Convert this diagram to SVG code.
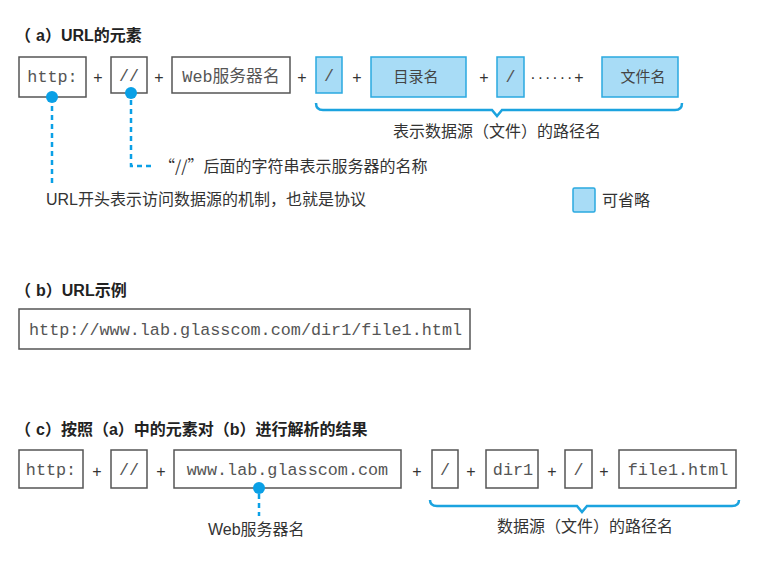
<svg xmlns="http://www.w3.org/2000/svg" width="757" height="561" viewBox="0 0 757 561">
<style>
.t{font-family:"Liberation Sans","Noto Sans CJK SC",sans-serif;font-size:16px;font-weight:bold;fill:#222}
.l{font-family:"Liberation Sans","Noto Sans CJK SC",sans-serif;font-size:16px;fill:#333}
.m{font-family:"Liberation Mono","Noto Sans CJK SC",monospace;font-size:16.8px;fill:#555;text-anchor:middle}
.p{font-family:"Liberation Sans",sans-serif;font-size:16px;fill:#333;text-anchor:middle}
.c{font-family:"Noto Sans CJK SC",sans-serif;font-size:15px;fill:#444;text-anchor:middle}
.b{fill:#fff;stroke:#555;stroke-width:1.5}
.o{fill:#a8dcf6;stroke:#2aa9e0;stroke-width:1.5}
.d{fill:#0aa0e6}
.dash{fill:none;stroke:#0aa0e6;stroke-width:2.5;stroke-dasharray:5 4}
.br{fill:none;stroke:#1ba3df;stroke-width:2.5;stroke-linejoin:miter}
</style>
<rect width="757" height="561" fill="#fff"/>

<text class="t" x="15" y="41">（<tspan dx="5">a</tspan>）URL的元素</text>
<text class="t" x="15" y="296">（<tspan dx="5">b</tspan>）URL示例</text>
<text class="t" x="15" y="435">（<tspan dx="5">c</tspan>）按照（a）中的元素对（b）进行解析的结果</text>

<g id="connectors">
  <line class="dash" x1="52" y1="106" x2="52" y2="184"/>
  <polyline class="dash" points="131,100 131,166 155,166"/>
  <line class="dash" x1="259" y1="494" x2="259" y2="516"/>
  <path class="br" d="M316,103 Q316,110 323,110 L492,110 L497,116 L502,110 L675,110 Q682,110 682,103"/>
  <path class="br" d="M430,500 Q430,506 437,506 L577,506 L582,512 L587,506 L732,506 Q739,506 739,500"/>
</g>

<!-- (a) -->
<g id="a-http"><rect class="b" x="19" y="57" width="67" height="40"/><text class="m" x="52.5" y="82">http:</text></g>
<g id="a-slash2"><rect class="b" x="111" y="57" width="36" height="36"/><text class="m" x="129" y="81">//</text></g>
<g id="a-web"><rect class="b" x="172" y="57" width="118" height="36"/><text class="m" x="231" y="82">Web服务器名</text></g>
<g id="a-slash"><rect class="o" x="316" y="57" width="26" height="36"/><text class="m" x="329" y="81">/</text></g>
<g id="a-dir"><rect class="o" x="371" y="57" width="95" height="40"/><text class="c" x="416" y="82">目录名</text></g>
<g id="a-slash3"><rect class="o" x="497" y="57" width="27" height="40"/><text class="m" x="510.5" y="82">/</text></g>
<g id="a-file"><rect class="o" x="602" y="57" width="76" height="40"/><text class="c" x="643" y="82">文件名</text></g>
<g id="a-plus">
  <text class="p" x="98" y="83">+</text>
  <text class="p" x="159" y="83">+</text>
  <text class="p" x="302" y="83">+</text>
  <text class="p" x="357" y="83">+</text>
  <text class="p" x="484" y="83">+</text>
  <text class="p" x="558" y="83" style="letter-spacing:2px">······+</text>
</g>
<g id="a-dot1"><circle class="d" cx="52" cy="97" r="6"/></g>
<g id="a-dot2"><circle class="d" cx="131" cy="93" r="6"/></g>
<g id="a-label-path"><text class="l" x="393" y="137">表示数据源（文件）的路径名</text></g>
<g id="a-label-slash"><text class="l" x="159" y="172"><tspan style="font-family:'Noto Sans CJK SC',sans-serif">“//”</tspan>后面的字符串表示服务器的名称</text></g>
<g id="a-label-proto"><text class="l" x="46" y="205">URL开头表示访问数据源的机制，也就是协议</text></g>
<g id="legend"><rect class="o" x="573" y="188" width="22" height="24" rx="1.5"/><text class="l" x="602" y="206">可省略</text></g>

<!-- (b) -->
<g id="b-url"><rect class="b" x="19" y="309" width="451" height="40"/><text class="m" x="29" y="335" style="text-anchor:start">http://www.lab.glasscom.com/dir1/file1.html</text></g>

<!-- (c) -->
<g id="c-http"><rect class="b" x="19" y="450" width="64" height="38"/><text class="m" x="51" y="475">http:</text></g>
<g id="c-slash2"><rect class="b" x="111" y="450" width="36" height="38"/><text class="m" x="129" y="475">//</text></g>
<g id="c-host"><rect class="b" x="174" y="450" width="227" height="38"/><text class="m" x="287.5" y="475">www.lab.glasscom.com</text></g>
<g id="c-slash"><rect class="b" x="432" y="450" width="26" height="38"/><text class="m" x="445" y="475">/</text></g>
<g id="c-dir"><rect class="b" x="486" y="450" width="52" height="38"/><text class="m" x="513" y="475">dir1</text></g>
<g id="c-slash3"><rect class="b" x="565" y="450" width="27" height="38"/><text class="m" x="578.5" y="475">/</text></g>
<g id="c-file"><rect class="b" x="619" y="450" width="117" height="38"/><text class="m" x="678" y="475">file1.html</text></g>
<g id="c-plus">
  <text class="p" x="97" y="477">+</text>
  <text class="p" x="161" y="477">+</text>
  <text class="p" x="417" y="477">+</text>
  <text class="p" x="471" y="477">+</text>
  <text class="p" x="552" y="477">+</text>
  <text class="p" x="604" y="477">+</text>
</g>
<g id="c-dot"><circle class="d" cx="259" cy="488" r="6"/></g>
<g id="c-label-web"><text class="l" x="208" y="535">Web服务器名</text></g>
<g id="c-label-path"><text class="l" x="497" y="532">数据源（文件）的路径名</text></g>
</svg>
